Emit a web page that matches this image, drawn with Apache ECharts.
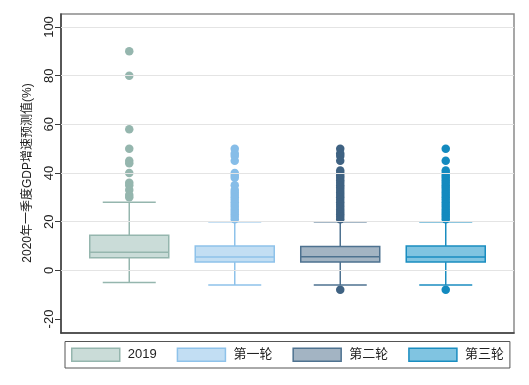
<!DOCTYPE html>
<html>
<head>
<meta charset="utf-8">
<script src="https://cdn.jsdelivr.net/npm/echarts@6/dist/echarts.min.js"></script>
<style>html,body{margin:0;padding:0;background:#fff}#c{width:529px;height:385px}</style>
</head>
<body>
<div id="c"></div>
<script>
// ---- data ----
var categories = ['2019', '第一轮', '第二轮', '第三轮'];
// [min whisker, Q1, median, Q3, max whisker]
var stats2019 = [-5, 5.2, 7.4, 14.4, 28];
var statsR1 = [-6, 3.4, 5.5, 10, 20];
var statsR2 = [-6, 3.4, 5.6, 9.8, 20];
var statsR3 = [-6, 3.4, 5.5, 10, 20];
var outliers2019 = [90, 80, 58, 50, 45, 44, 40, 36, 35, 33, 31, 30];
var outliersR1 = [50, 48, 47, 45, 40, 39, 38, 35, 33, 32, 31, 30, 29, 28, 27, 26, 25, 24, 23, 22, 21];
var outliersR2 = [50, 48, 47, 45, 41, 40, 39, 38, 37, 36, 35, 34, 33, 32, 31, 30, 29, 28, 27, 26, 25, 24, 23, 22, 21, -8];
var outliersR3 = [50, 45, 41, 40, 39, 38, 37, 36, 35, 34, 33, 32, 31, 30, 29, 28, 27, 26, 25, 24, 23, 22, 21, -8];
var yTicks = [-20, 0, 20, 40, 60, 80, 100];
var gridTicks = [0, 20, 40, 60, 80, 100];
var yTitle = '2020年一季度GDP增速预测值(%)';

var allStats = [stats2019, statsR1, statsR2, statsR3];
var allOutliers = [outliers2019, outliersR1, outliersR2, outliersR3];
var fills = ['#cadcd8', '#c2def3', '#a3b4c3', '#80c4e1'];
var strokes = ['#95b6ae', '#8ec2ea', '#4e7290', '#1a8dc0'];
var dots = ['#95b6ae', '#86bde8', '#3f6282', '#138abf'];

var BOX_W = 79, CAP_W = 53;
var FONT = '"Liberation Sans", Arial, "Noto Sans CJK SC", sans-serif';

function makeRender(fill, stroke) {
  return function (params, api) {
    var x = api.value(0);
    var lo = api.coord([x, api.value(1)]);
    var q1 = api.coord([x, api.value(2)]);
    var med = api.coord([x, api.value(3)]);
    var q3 = api.coord([x, api.value(4)]);
    var hi = api.coord([x, api.value(5)]);
    var cx = lo[0];
    var ls = { stroke: stroke, lineWidth: 1.5 };
    return {
      type: 'group',
      children: [
        { type: 'line', shape: { x1: cx, y1: q3[1], x2: cx, y2: hi[1] }, style: ls },
        { type: 'line', shape: { x1: cx, y1: q1[1], x2: cx, y2: lo[1] }, style: ls },
        { type: 'line', shape: { x1: cx - CAP_W / 2, y1: hi[1], x2: cx + CAP_W / 2, y2: hi[1] }, style: ls },
        { type: 'line', shape: { x1: cx - CAP_W / 2, y1: lo[1], x2: cx + CAP_W / 2, y2: lo[1] }, style: ls },
        { type: 'rect', shape: { x: cx - BOX_W / 2, y: q3[1], width: BOX_W, height: q1[1] - q3[1] }, style: { fill: fill, stroke: stroke, lineWidth: 1.5 } },
        { type: 'line', shape: { x1: cx - BOX_W / 2, y1: med[1], x2: cx + BOX_W / 2, y2: med[1] }, style: ls }
      ]
    };
  };
}

var series = [];
// gridlines (skip -20)
series.push({
  type: 'line', xAxisIndex: 1, yAxisIndex: 1, data: [], z: 1, silent: true,
  markLine: {
    silent: true, symbol: ['none', 'none'], label: { show: false },
    lineStyle: { color: '#e4e4e4', width: 1, type: 'solid' },
    data: gridTicks.map(function (v) { return { yAxis: v }; })
  }
});
categories.forEach(function (name, i) {
  series.push({
    type: 'custom', name: name, xAxisIndex: 1, yAxisIndex: 1, z: 3,
    renderItem: makeRender(fills[i], strokes[i]),
    itemStyle: { color: fills[i], borderColor: strokes[i], borderWidth: 1.5 },
    encode: { x: 0, y: [1, 2, 3, 4, 5] },
    data: [[i + 1].concat(allStats[i])]
  });
});
categories.forEach(function (name, i) {
  series.push({
    type: 'scatter', name: name + '_out', xAxisIndex: 1, yAxisIndex: 1, z: 4,
    symbol: 'circle', symbolSize: 8.5,
    itemStyle: { color: dots[i], opacity: 1 },
    data: allOutliers[i].map(function (v) { return [i + 1, v]; })
  });
});

var chart = echarts.init(document.getElementById('c'), null, { renderer: 'canvas' });
chart.setOption({
  animation: false,
  backgroundColor: '#fff',
  textStyle: { fontFamily: FONT },
  grid: [
    { left: 61, top: 14, right: 15, bottom: 52, show: true, borderColor: '#8a8a8a', borderWidth: 1.5, backgroundColor: 'transparent' },
    { left: 61, top: 27, right: 15, bottom: 66 }
  ],
  xAxis: [
    { gridIndex: 0, type: 'value', min: 0, max: 1, axisLine: { show: true, lineStyle: { color: '#3c3c3c', width: 1.5 } }, axisTick: { show: false }, axisLabel: { show: false }, splitLine: { show: false } },
    { gridIndex: 1, type: 'value', min: 0.353, max: 4.647, show: false, splitLine: { show: false } }
  ],
  yAxis: [
    { gridIndex: 0, type: 'value', min: 0, max: 1, axisLine: { show: true, lineStyle: { color: '#3c3c3c', width: 1.5 } }, axisTick: { show: false }, axisLabel: { show: false }, splitLine: { show: false } },
    {
      gridIndex: 1, type: 'value', min: yTicks[0], max: yTicks[yTicks.length - 1], interval: 20,
      name: yTitle, nameLocation: 'middle', nameGap: 27, nameRotate: 90,
      nameTextStyle: { fontSize: 12, color: '#222', fontFamily: FONT },
      axisLine: { show: false },
      axisTick: { show: true, length: 6, lineStyle: { color: '#3c3c3c', width: 1 } },
      axisLabel: { rotate: 90, margin: 5, fontSize: 13, color: '#222', fontFamily: FONT },
      splitLine: { show: false }
    }
  ],
  legend: {
    left: 65, top: 341.5, orient: 'horizontal',
    padding: [6, 6, 6, 6], itemGap: 20, itemWidth: 48, itemHeight: 13,
    borderColor: '#555', borderWidth: 1, backgroundColor: '#fff',
    textStyle: { fontSize: 13, color: '#222', fontFamily: FONT, padding: [0, 0, 0, 3] },
    selectedMode: false,
    data: categories.map(function (name, i) {
      return { name: name, icon: 'rect', itemStyle: { color: fills[i], borderColor: strokes[i], borderWidth: 1.5 } };
    })
  },
  series: series
});
</script>
</body>
</html>
